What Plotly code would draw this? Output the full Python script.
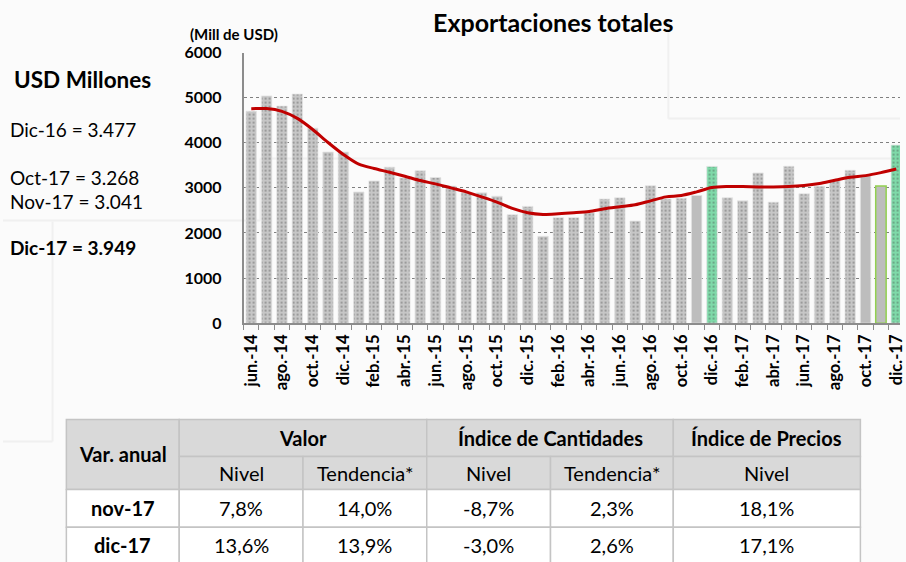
import plotly.graph_objects as go

# ---------------- data ----------------
months = ["jun.-14", "jul.-14", "ago.-14", "sep.-14", "oct.-14", "nov.-14", "dic.-14",
          "ene.-15", "feb.-15", "mar.-15", "abr.-15", "may.-15", "jun.-15", "jul.-15",
          "ago.-15", "sep.-15", "oct.-15", "nov.-15", "dic.-15",
          "ene.-16", "feb.-16", "mar.-16", "abr.-16", "may.-16", "jun.-16", "jul.-16",
          "ago.-16", "sep.-16", "oct.-16", "nov.-16", "dic.-16",
          "ene.-17", "feb.-17", "mar.-17", "abr.-17", "may.-17", "jun.-17", "jul.-17",
          "ago.-17", "sep.-17", "oct.-17", "nov.-17", "dic.-17"]

exports = [4700, 5040, 4815, 5080, 4325, 3795, 3795,
           2910, 3155, 3460, 3220, 3380, 3230, 3040,
           2900, 2890, 2815, 2405, 2590,
           1925, 2340, 2340, 2450, 2755, 2780, 2265,
           3045, 2755, 2772, 2831, 3477,
           2779, 2713, 3331, 2684, 3478, 2868, 3037,
           3169, 3390, 3268, 3041, 3949]

trend = [4756, 4758, 4696, 4541, 4296, 4007, 3741,
         3526, 3430, 3348, 3259, 3163, 3089, 3000,
         2912, 2801, 2684, 2544, 2449,
         2412, 2426, 2449, 2478, 2537, 2581, 2625,
         2713, 2801, 2831, 2912, 3007,
         3029, 3029, 3022, 3022, 3029, 3051, 3096,
         3169, 3235, 3272, 3338, 3419]

y_ticks = [0, 1000, 2000, 3000, 4000, 5000, 6000]

summary_months = ["dic.-16", "oct.-17", "nov.-17", "dic.-17"]
summary_names = ["Dic-16", "Oct-17", "Nov-17", "Dic-17"]

table_periods = ["nov-17", "dic-17"]
valor_nivel = [7.8, 13.6]
valor_tendencia = [14.0, 13.9]
cantidades_nivel = [-8.7, -3.0]
cantidades_tendencia = [2.3, 2.6]
precios_nivel = [18.1, 17.1]

table_groups = ["Var. anual", "Valor", "Índice de Cantidades", "Índice de Precios"]
table_subheads = ["Nivel", "Tendencia*", "Nivel", "Tendencia*", "Nivel"]

# ---------------- styles ----------------
W, H = 906, 562
FONT = "Lato, 'Open Sans', sans-serif"
TFONT = "Lato, sans-serif"
GRAY = "#C6C6C6"
SOLID_GRAY = "#BDBDBD"
GREEN = "#7FD9A9"
green_months = {"dic.-16", "dic.-17"}
solid_months = {"nov.-16", "oct.-17", "nov.-17"}
outlined_months = {"nov.-17"}

bar_colors = [GREEN if m in green_months else (SOLID_GRAY if m in solid_months else GRAY)
              for m in months]
bar_patterns = ["" if m in solid_months else "." for m in months]
bar_line_colors = ["#92D050" if m in outlined_months else "rgba(228,228,228,0.9)" for m in months]
bar_line_widths = [1.5 if m in outlined_months else 0.8 for m in months]

# vertical calibration of layout positions (pixel targets -> figure pixels)
Y_OFF, Y_SCALE = 8.37, 0.9667


def px(x):
    return x / W


def py(y):
    return 1 - ((y - Y_OFF) / Y_SCALE) / H


fig = go.Figure()

fig.add_trace(go.Bar(
    x=months, y=exports,
    marker=dict(color=bar_colors,
                line=dict(color=bar_line_colors, width=bar_line_widths),
                pattern=dict(shape=bar_patterns, fgcolor="rgba(255,255,255,0.6)",
                             size=4, solidity=0.16, fillmode="overlay")),
    showlegend=False, hoverinfo="x+y"))

fig.add_trace(go.Scatter(
    x=months, y=trend, mode="lines",
    line=dict(color="#C00000", width=3, shape="spline", smoothing=0.8),
    showlegend=False))

ticktext = [m if i % 2 == 0 else "" for i, m in enumerate(months)]

x_left, x_right = 243, W
n = len(months)
cat_w = 667 / n
fig.update_xaxes(
    domain=[px(x_left), 1],
    range=[-0.5, -0.5 + (x_right - x_left) / cat_w],
    tickmode="array", tickvals=months, ticktext=ticktext,
    tickson="boundaries", ticks="outside", ticklen=5, tickcolor="#8C8C8C",
    tickangle=-90, tickfont=dict(family=FONT, size=16.5, color="black", weight="bold"),
    showline=True, linecolor="#8C8C8C", linewidth=1.5,
    showgrid=False, ticklabelstandoff=3)

fig.update_yaxes(
    domain=[py(321.7), py(51)],
    range=[0, 6000], tickmode="array", tickvals=y_ticks,
    tickfont=dict(family=FONT, size=16, color="black", weight="bold"),
    showline=True, linecolor="#8C8C8C", linewidth=1.5,
    showgrid=True, gridcolor="#7F7F7F", gridwidth=1, griddash="dot",
    zeroline=False, ticks="", ticklabelstandoff=17)

shapes = []
annotations = []

# faint background panels
for (x0, y0, x1, y1) in [(0, 219, 260, 219), (260, 157, 260, 219), (260, 157, W, 157),
                         (672, 20, 672, 117), (672, 117, W, 117),
                         (50, 220, 50, 440), (0, 440, 50, 440)]:
    shapes.append(dict(type="line", xref="paper", yref="paper",
                       x0=px(x0), y0=py(y0), x1=px(x1), y1=py(y1),
                       line=dict(color="#F0F0F0", width=2), layer="below"))

# titles
annotations.append(dict(text="<b>Exportaciones totales</b>", x=px(556), y=py(20),
                        xref="paper", yref="paper", showarrow=False,
                        font=dict(family=FONT, size=25, color="black"),
                        xanchor="center", yanchor="middle"))
annotations.append(dict(text="<b>(Mill de USD)</b>", x=px(187), y=py(32),
                        xref="paper", yref="paper", showarrow=False,
                        font=dict(family=FONT, size=15, color="black"),
                        xanchor="left", yanchor="middle"))

# left summary panel
annotations.append(dict(text="<b>USD Millones</b>", x=px(9), y=py(78),
                        xref="paper", yref="paper", showarrow=False,
                        font=dict(family=FONT, size=22.5, color="black"),
                        xanchor="left", yanchor="middle"))
summary_y = [128, 176, 200, 246]
for name, m, yy in zip(summary_names, summary_months, summary_y):
    v = exports[months.index(m)]
    txt = f"{name} = {v:,}".replace(",", ".")
    if m == "dic.-17":
        txt = f"<b>{txt}</b>"
    annotations.append(dict(text=txt, x=px(5), y=py(yy), xref="paper", yref="paper",
                            showarrow=False, font=dict(family=FONT, size=19, color="black"),
                            xanchor="left", yanchor="middle"))

# ---------------- table ----------------
cols = [64, 178, 303, 428, 553, 677, 866]
rows = [418, 455, 488, 526, 566]
HEAD = "#D9D9D9"
BORDER = "#C4C4C4"


def cell(x0, x1, y0, y1, fill, text, bold=False):
    shapes.append(dict(type="rect", xref="paper", yref="paper",
                       x0=px(x0), x1=px(x1), y0=py(y1), y1=py(y0),
                       fillcolor=fill, line=dict(color=BORDER, width=1.5), layer="below"))
    annotations.append(dict(text=f"<b>{text}</b>" if bold else text,
                            x=px((x0 + x1) / 2), y=py((y0 + min(y1, 562)) / 2),
                            xref="paper", yref="paper", showarrow=False,
                            font=dict(family=TFONT, size=20, color="black"),
                            xanchor="center", yanchor="middle"))


group_spans = [(0, 1), (1, 3), (3, 5), (5, 6)]
cell(cols[0], cols[1], rows[0], rows[2], HEAD, table_groups[0], True)
for g, (a, b) in zip(table_groups[1:], group_spans[1:]):
    cell(cols[a], cols[b], rows[0], rows[1], HEAD, g, True)
for j, s in enumerate(table_subheads):
    cell(cols[j + 1], cols[j + 2], rows[1], rows[2], HEAD, s)

fmt = lambda v: f"{v:.1f}%".replace(".", ",")
series = [valor_nivel, valor_tendencia, cantidades_nivel, cantidades_tendencia, precios_nivel]
for i, per in enumerate(table_periods):
    cell(cols[0], cols[1], rows[2 + i], rows[3 + i], "white", per, True)
    for j, s in enumerate(series):
        cell(cols[j + 1], cols[j + 2], rows[2 + i], rows[3 + i], "white", fmt(s[i]))

fig.update_layout(
    width=W, height=H, margin=dict(l=0, r=0, t=0, b=0),
    paper_bgcolor="#FBFBFB", plot_bgcolor="rgba(0,0,0,0)",
    bargap=0.32, shapes=shapes, annotations=annotations,
    font=dict(family=FONT))

post = ("var d=document.getElementById('{plot_id}');"
        "d.style.position='fixed';d.style.top='0px';d.style.left='0px';"
        "document.body.style.margin='0';document.body.style.overflow='hidden';"
        "document.documentElement.style.overflow='hidden';")
fig.write_html("out.html", config={"displayModeBar": False}, post_script=post)
